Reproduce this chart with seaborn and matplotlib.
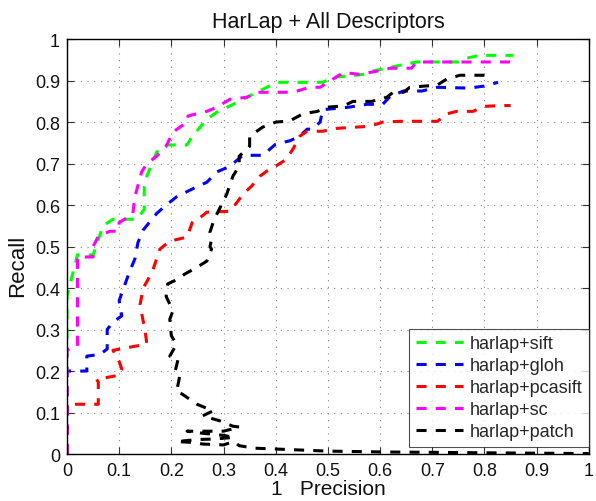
import matplotlib
matplotlib.use("Agg")
import matplotlib.pyplot as plt
import seaborn as sns
import pandas as pd
import numpy as np

# ---- data (1 - precision, recall) ----
sift_x = [0.0, 0.0, 0.0, 0.02, 0.05, 0.069, 0.088, 0.134, 0.148, 0.148, 0.153, 0.172, 0.19, 0.23, 0.24,
          0.268, 0.287, 0.312, 0.364, 0.402, 0.49, 0.51, 0.567, 0.586, 0.638, 0.67, 0.75, 0.766, 0.79, 0.855]
sift_y = [0.0, 0.30, 0.38, 0.48, 0.48, 0.55, 0.566, 0.566, 0.59, 0.645, 0.67, 0.728, 0.745, 0.745, 0.766,
          0.807, 0.824, 0.839, 0.872, 0.896, 0.896, 0.908, 0.915, 0.923, 0.937, 0.945, 0.945, 0.954, 0.961, 0.961]

gloh_x = [0.0, 0.0, 0.038, 0.038, 0.063, 0.077, 0.077, 0.088, 0.105, 0.10, 0.11, 0.12, 0.13, 0.136, 0.146,
          0.172, 0.19, 0.21, 0.25, 0.268, 0.287, 0.306, 0.318, 0.337, 0.375, 0.40, 0.427, 0.446, 0.46, 0.47,
          0.485, 0.49, 0.54, 0.575, 0.605, 0.62, 0.645, 0.68, 0.71, 0.77, 0.80, 0.826]
gloh_y = [0.0, 0.20, 0.20, 0.236, 0.24, 0.253, 0.30, 0.318, 0.333, 0.37, 0.405, 0.44, 0.47, 0.51, 0.54,
          0.58, 0.60, 0.62, 0.645, 0.655, 0.68, 0.69, 0.70, 0.72, 0.72, 0.747, 0.755, 0.766, 0.783, 0.783,
          0.80, 0.83, 0.836, 0.843, 0.843, 0.863, 0.875, 0.875, 0.884, 0.882, 0.887, 0.896]

pcasift_x = [0.0, 0.0, 0.06, 0.06, 0.057, 0.10, 0.105, 0.098, 0.088, 0.153, 0.15, 0.146, 0.14, 0.146, 0.155,
             0.165, 0.178, 0.197, 0.23, 0.24, 0.255, 0.268, 0.312, 0.326, 0.337, 0.354, 0.37, 0.383, 0.40,
             0.42, 0.433, 0.446, 0.46, 0.49, 0.517, 0.555, 0.58, 0.605, 0.638, 0.71, 0.728, 0.747, 0.778,
             0.80, 0.833, 0.85]
pcasift_y = [0.0, 0.12, 0.12, 0.173, 0.18, 0.19, 0.205, 0.23, 0.25, 0.265, 0.294, 0.32, 0.36, 0.40, 0.42,
             0.445, 0.494, 0.513, 0.523, 0.558, 0.57, 0.583, 0.585, 0.607, 0.626, 0.646, 0.67, 0.682, 0.694,
             0.71, 0.735, 0.766, 0.778, 0.778, 0.785, 0.788, 0.79, 0.80, 0.802, 0.802, 0.82, 0.826, 0.826,
             0.838, 0.84, 0.84]

sc_x = [0.0, 0.0, 0.015, 0.02, 0.02, 0.05, 0.05, 0.06, 0.082, 0.098, 0.10, 0.126, 0.13, 0.143, 0.153,
        0.172, 0.19, 0.203, 0.23, 0.232, 0.268, 0.287, 0.312, 0.345, 0.364, 0.433, 0.465, 0.485, 0.51,
        0.53, 0.56, 0.594, 0.62, 0.66, 0.67, 0.85]
sc_y = [0.0, 0.25, 0.26, 0.26, 0.475, 0.475, 0.50, 0.525, 0.537, 0.537, 0.558, 0.578, 0.62, 0.68, 0.70,
        0.718, 0.742, 0.776, 0.80, 0.815, 0.826, 0.836, 0.855, 0.86, 0.872, 0.872, 0.884, 0.884, 0.904,
        0.92, 0.915, 0.923, 0.93, 0.93, 0.945, 0.945]

patch_x = [0.80, 0.787, 0.753, 0.728, 0.709, 0.686, 0.657, 0.645, 0.625, 0.613, 0.584, 0.548, 0.53, 0.498,
           0.48, 0.452, 0.427, 0.40, 0.375, 0.35, 0.35, 0.345, 0.33, 0.33, 0.318, 0.306, 0.287, 0.28, 0.274,
           0.277, 0.274, 0.277, 0.268, 0.249, 0.226, 0.21, 0.193, 0.19, 0.203, 0.197, 0.20, 0.21, 0.197,
           0.213, 0.207, 0.216, 0.21, 0.22, 0.249, 0.28, 0.26, 0.293, 0.318, 0.331, 0.30, 0.23, 0.26, 0.30,
           0.32, 0.28, 0.25, 0.21, 0.24, 0.26, 0.30, 0.32, 0.33, 0.36, 0.40, 0.44, 0.50, 0.60, 0.70, 0.80,
           0.90, 1.0]
patch_y = [0.913, 0.913, 0.913, 0.904, 0.889, 0.887, 0.884, 0.872, 0.872, 0.86, 0.85, 0.85, 0.839, 0.836,
           0.826, 0.82, 0.803, 0.80, 0.788, 0.766, 0.742, 0.735, 0.718, 0.694, 0.67, 0.626, 0.578, 0.558,
           0.535, 0.518, 0.50, 0.494, 0.465, 0.45, 0.434, 0.42, 0.41, 0.38, 0.345, 0.325, 0.285, 0.265, 0.236,
           0.229, 0.198, 0.188, 0.15, 0.145, 0.12, 0.104, 0.092, 0.08, 0.067, 0.065, 0.055, 0.055, 0.05, 0.045,
           0.04, 0.036, 0.035, 0.03, 0.028, 0.024, 0.022, 0.03, 0.02, 0.014, 0.012, 0.01, 0.007, 0.005, 0.004,
           0.003, 0.002, 0.001]

series_names = ["harlap+sift", "harlap+gloh", "harlap+pcasift", "harlap+sc", "harlap+patch"]
series_x = [sift_x, gloh_x, pcasift_x, sc_x, patch_x]
series_y = [sift_y, gloh_y, pcasift_y, sc_y, patch_y]
colors = ["#00ff00", "#0000ff", "#ff0000", "#ff00ff", "#000000"]

ticks = [0, 0.1, 0.2, 0.3, 0.4, 0.5, 0.6, 0.7, 0.8, 0.9, 1]
tick_labels = ["0", "0.1", "0.2", "0.3", "0.4", "0.5", "0.6", "0.7", "0.8", "0.9", "1"]

sns.set_theme(style="white")
plt.rcParams["font.family"] = ["Liberation Sans", "DejaVu Sans"]

LW = 2.2
DASH = (3.3, 3.0)

fig = plt.figure(figsize=(5.96, 5.02), dpi=100)
ax = fig.add_axes([0.1124, 0.0936, 0.8756, 0.8264])

for name, xs, ys, c in zip(series_names, series_x, series_y, colors):
    df = pd.DataFrame({"x": xs, "y": ys})
    sns.lineplot(data=df, x="x", y="y", sort=False, estimator=None, color=c,
                 linewidth=LW, linestyle="--", label=name, ax=ax)

for line in ax.get_lines():
    line.set_dashes(DASH)

ax.set_xlim(0, 1)
ax.set_ylim(0, 1)
ax.set_xticks(ticks)
ax.set_yticks(ticks)
ax.set_xticklabels(tick_labels, fontsize=13)
ax.set_yticklabels(tick_labels, fontsize=13)
ax.grid(True, linestyle=(0, (1, 5)), color="#888888", linewidth=0.8)
ax.tick_params(direction="in", length=5, width=0.8, color="#333333", top=True, right=True,
               bottom=True, left=True, pad=5, labelcolor="#111111")
ax.tick_params(axis="x", pad=6)
for s in ax.spines.values():
    s.set_color("black")
    s.set_linewidth(1.0)

ax.set_xlabel("1   Precision", fontsize=15, labelpad=0, color="#111111")
ax.set_ylabel("Recall", fontsize=16, labelpad=6, color="#111111")
ax.yaxis.set_label_coords(-0.074, 0.455)
ax.set_title("HarLap + All Descriptors", fontsize=15.5, pad=9, color="#111111")

leg = ax.legend(loc="lower right", bbox_to_anchor=(1.0, 0.018), fontsize=13, frameon=True,
                fancybox=False, borderaxespad=0.0, handlelength=2.6, handletextpad=0.4,
                labelspacing=0.28, borderpad=0.35)
leg.get_frame().set_edgecolor("#222222")
leg.get_frame().set_linewidth(0.8)
for h in leg.get_lines():
    h.set_dashes(DASH)
    h.set_linewidth(LW)

fig.savefig("out.png", dpi=100)
